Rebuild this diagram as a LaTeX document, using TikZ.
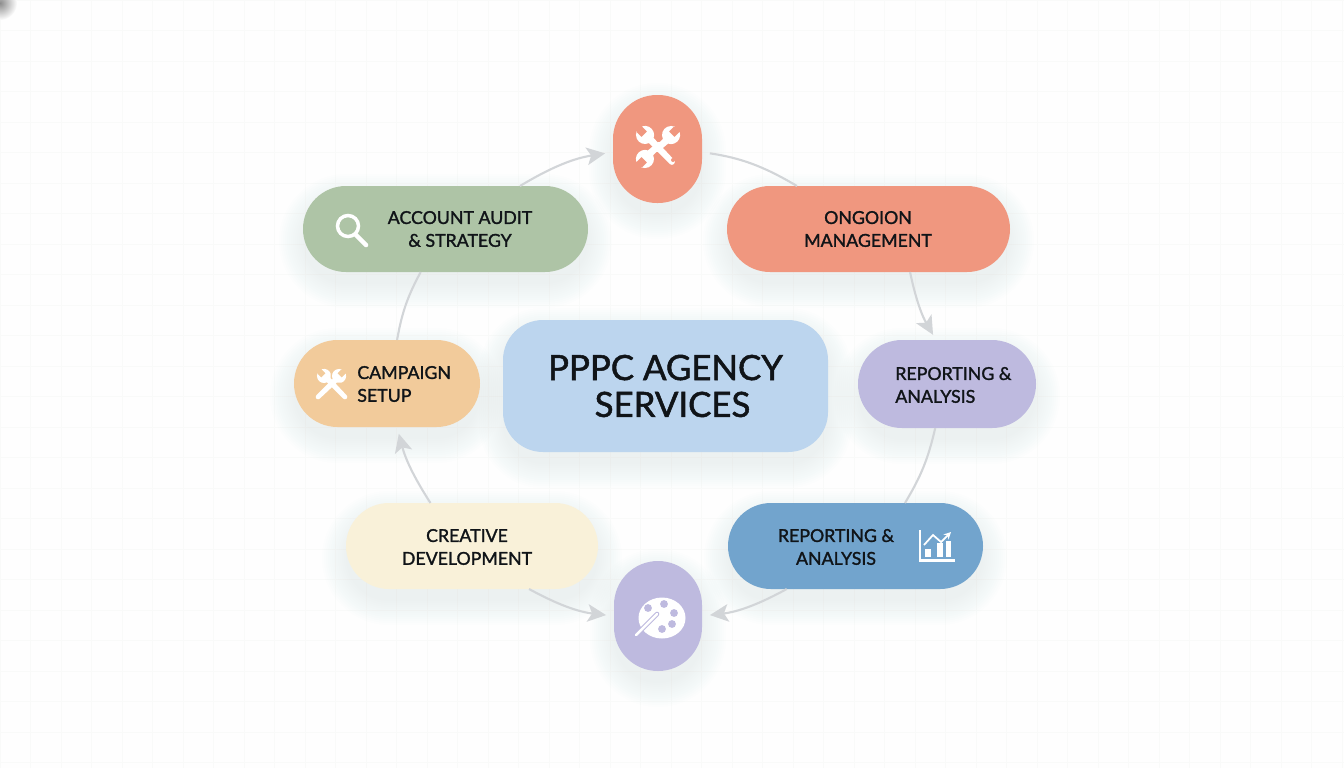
\documentclass[tikz,border=0pt]{standalone}
\usepackage{fontspec}
\usetikzlibrary{arrows.meta}
\newfontfamily\pillfont[FakeBold=1.5]{Lato}
\definecolor{bgpaper}{HTML}{FEFEFE}
\definecolor{gridtint}{HTML}{F9FAF9}
\definecolor{arcgray}{HTML}{D2D5D8}
\definecolor{shadowtint}{HTML}{76859C}
\definecolor{coralfill}{HTML}{F0977F}
\definecolor{sagefill}{HTML}{AEC4A6}
\definecolor{peachfill}{HTML}{F2CB9B}
\definecolor{lilacfill}{HTML}{BEBADF}
\definecolor{creamfill}{HTML}{F9F1D9}
\definecolor{bluefill}{HTML}{72A4CD}
\definecolor{skyfill}{HTML}{BCD5EE}
\definecolor{inktext}{HTML}{101418}
\def\pilllist{
  tool/657.5/149/89/108/.88/coralfill, palette/658/616/88/110/.88/lilacfill,
  audit/445.5/229/285/86/.86/sagefill, ongoing/868.5/229/283/86/.86/coralfill,
  campaign/387/383.5/186/87/.87/peachfill, reportlilac/947/384/178/88/.88/lilacfill,
  creative/472/546/252/86/.86/creamfill, reportblue/855.5/546/255/86/.86/bluefill,
  center/665.5/386/325/132/.8/skyfill}

\begin{document}
\begin{tikzpicture}
[x=0.02cm,y=-0.02cm,
  softShadow/.style={fill=shadowtint,opacity=.008},
  pillDecorate/.style={shape=rectangle,inner sep=0pt,outer sep=0pt},
  pillText/.style={align=center,text=inktext,inner sep=0pt,
    font=\pillfont\fontsize{10.1}{13}\selectfont},
  arcLine/.style={draw=arcgray,line width=1.2pt},
  arcArrow/.style={arcLine,-{Stealth[length=10.5pt,width=10pt,inset=2.5pt]}},
  gridLine/.style={draw=gridtint,line width=.5pt},
  pics/spanner/.style={code={
    \fill[white] (-4,-8.2) -- (-4,-1) -- (4,-1) -- (4,-8.2) arc (-64:64:9.1)
      -- (3,#1) arc (0:180:3) -- (-3,8.5) arc (110:250:9.1) -- cycle;}}]
%% background
\fill[bgpaper] (0,0) rectangle (1344,768);
\useasboundingbox (0,0) rectangle (1344,768);
\foreach \i in {0,...,44}
{
  \draw[gridLine] (\i*30.5,0) -- (\i*30.5,768);
}
\foreach \i in {0,...,25}
{
  \draw[gridLine] (0,\i*30.5) -- (1344,\i*30.5);
}
\shade[inner color=black!45,outer color=bgpaper] (0,3) circle (17);
%% shadows
\foreach \nodename/\x/\y/\w/\h/\r/\col in \pilllist
{
  \foreach \g in {0,2,...,24}
  {
    \fill[softShadow,rounded corners=\r cm+\g*0.02cm]
      (\x-\w/2-\g,\y-\h/2-\g+12) rectangle (\x+\w/2+\g,\y+\h/2+\g+12);
  }
}
%% nodes or pills
\foreach \nodename/\x/\y/\w/\h/\r/\col in \pilllist
{
  \node (\nodename) at (\x,\y) [pillDecorate,fill=\col,rounded corners=\r cm,
    minimum width=\w*0.02cm,minimum height=\h*0.02cm] {};
}
%% labels
\foreach \nodename/\x/\y/\txt in {
  auditText/460/229/{ACCOUNT AUDIT\\\& STRATEGY},
  ongoingText/868/229/{ONGOION\\MANAGEMENT},
  reportblueText/836/547/{REPORTING \&\\ANALYSIS},
  creativeText/467/547/{CREATIVE\\DEVELOPMENT}}
{
  \node (\nodename) at (\x,\y) [pillText] {\txt};
}
\node (campaignText) at (357,384) [pillText,anchor=west,align=left] {CAMPAIGN\\SETUP};
\node (reportlilacText) at (895,385) [pillText,anchor=west,align=left] {REPORTING \&\\ANALYSIS};
\node (centerText) at (665.5,386) [pillText,
  font=\pillfont\fontsize{19.8}{21}\selectfont] {PPPC AGENCY\\\hspace*{.28cm}SERVICES};
%% arcs or connectors
\draw[arcArrow,shorten >=8pt*.567] (audit.30) to[bend left=11] (tool.184);
\draw[arcLine,shorten <=8pt*.567] (tool.-4) to[bend left=11] (ongoing.149);
\draw[arcArrow,shorten >=6pt*.567] (ongoing.-46) to[bend right=9] (reportlilac.104);
\draw[arcLine] (reportlilac.255) to[bend left=9] (reportblue.41);
\draw[arcArrow,shorten >=8pt*.567] (reportblue.212) to[bend left=11] (palette.0);
\draw[arcArrow,shorten >=8pt*.567] (creative.-37) to[bend right=11] (palette.180);
\draw[arcArrow,shorten >=7pt*.567] (creative.134) to[bend left=9] (campaign.-77);
\draw[arcLine] (campaign.77) to[bend left=9] (audit.240);
%% icons
\pic[rotate=45] at (645,135) {spanner=38};
\pic[rotate=-45] at (671,135) {spanner=20};
\pic[rotate=135] at (645,159) {spanner=20};
\fill[coralfill] (673,160) circle (2);
\pic[rotate=45,scale=.78] at (324,376) {spanner=38};
\pic[rotate=-45,scale=.78] at (339,376) {spanner=38};
\draw[white,line width=2pt] (348,226) circle (10.5);
\draw[white,line width=2.6pt,line cap=round] (356,235) -- (366,245);
\draw[white,line width=1.2pt] (920,530) -- (920,560.5) -- (955,560.5);
\foreach \bx/\btop in {925/549,937/543,945.5/541}
{
  \fill[white] (\bx,\btop) rectangle (\bx+5.5,557);
}
\draw[white,line width=1pt,-{Stealth[length=4pt,width=4pt]}]
  (924,545) -- (933,535) -- (941,542) -- (951,532);
\fill[white] (662,618) ellipse (23.5 and 20.5);
\foreach \dx/\dy in {648/608,664/604,674/613,672/624,662/629}
{
  \fill[lilacfill] (\dx,\dy) circle (3.9);
}
\draw[lilacfill,line width=2.6pt,line cap=round] (636,635) -- (657,614);
\draw[white,line width=1.4pt,line cap=round] (636,635) -- (657,614);
\end{tikzpicture}
\end{document}
